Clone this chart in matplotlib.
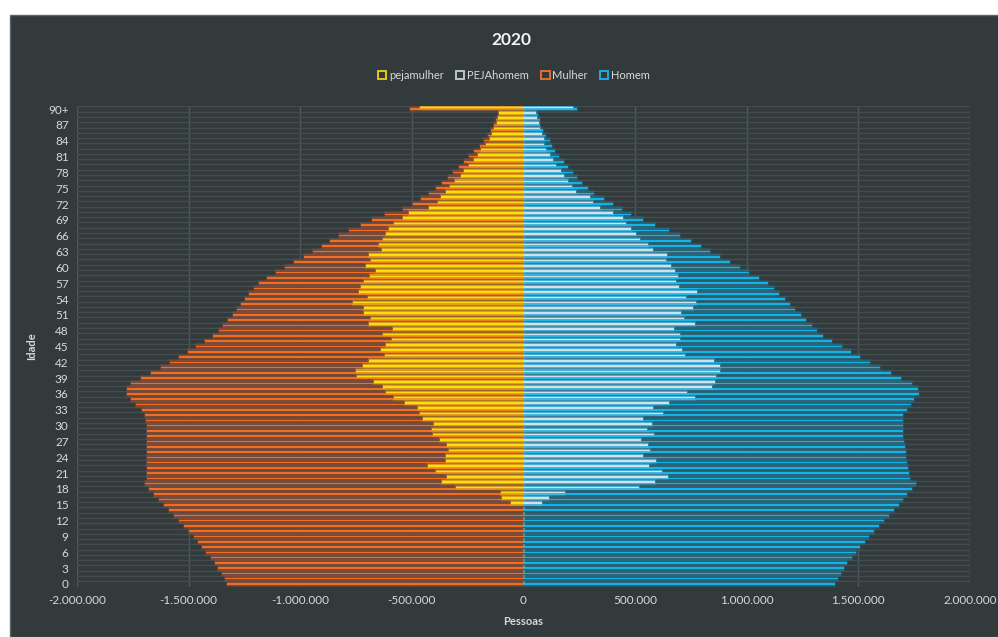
import numpy as np
import matplotlib.pyplot as plt
import matplotlib.patheffects as pe
from matplotlib.patches import Patch, Rectangle
from matplotlib.ticker import FuncFormatter

plt.rcParams['font.family'] = ['Lato', 'DejaVu Sans']

# idades 0..90+ (91 grupos)
Idade = np.arange(91)
Idade_lbl = [str(i) if i < 90 else "90+" for i in Idade]

Mulher = [1326000, 1336000, 1351000, 1368000, 1384000, 1402000, 1420000, 1438000, 1459000, 1478000,
          1499000, 1521000, 1544000, 1566000, 1589000, 1612000, 1633000, 1655000, 1677000, 1697000,
          1688000, 1687000, 1686000, 1685000, 1685000, 1685000, 1686000, 1686000, 1687000, 1688000,
          1688000, 1690000, 1696000, 1711000, 1737000, 1758000, 1778000, 1778000, 1758000, 1714000,
          1670000, 1625000, 1583000, 1543000, 1505000, 1468000, 1426000, 1390000, 1363000, 1344000,
          1323000, 1303000, 1284000, 1266000, 1248000, 1229000, 1209000, 1184000, 1149000, 1109000,
          1067000, 1027000, 985000, 945000, 904000, 865000, 825000, 780000, 730000, 680000,
          620000, 540000, 496000, 459000, 422000, 392000, 365000, 339000, 317000, 290000,
          265000, 242000, 220000, 197000, 179000, 160000, 145000, 134000, 122000, 110000,
          508000]

Homem = [1395000, 1407000, 1420000, 1435000, 1450000, 1470000, 1490000, 1507000, 1528000, 1547000,
         1568000, 1592000, 1614000, 1637000, 1660000, 1680000, 1700000, 1720000, 1740000, 1757000,
         1733000, 1727000, 1722000, 1718000, 1715000, 1712000, 1710000, 1706000, 1702000, 1700000,
         1700000, 1700000, 1702000, 1716000, 1734000, 1750000, 1770000, 1767000, 1740000, 1690000,
         1646000, 1599000, 1551000, 1507000, 1469000, 1426000, 1381000, 1342000, 1314000, 1291000,
         1264000, 1241000, 1217000, 1193000, 1170000, 1145000, 1121000, 1093000, 1054000, 1010000,
         969000, 924000, 879000, 837000, 797000, 752000, 700000, 650000, 590000, 535000,
         480000, 440000, 400000, 360000, 318000, 288000, 262000, 240000, 221000, 199000,
         181000, 158000, 142000, 129000, 117000, 102000, 87000, 76000, 72000, 64000,
         241000]

pejamulher = [0] * 15 + [
    55000, 98000, 103000, 302000, 363000,
    342000, 392000, 426000, 345000, 347000, 332000, 342000, 372000, 404000, 412000,
    399000, 452000, 462000, 471000, 531000, 578000, 616000, 628000, 668000, 746000,
    750000, 720000, 694000, 619000, 638000, 616000, 589000, 628000, 586000, 694000,
    683000, 713000, 713000, 765000, 698000, 738000, 728000, 713000, 688000, 661000,
    705000, 683000, 690000, 634000, 649000, 631000, 616000, 601000, 578000, 541000,
    511000, 422000, 384000, 369000, 347000, 329000, 305000, 279000, 265000, 242000,
    220000, 205000, 190000, 170000, 152000, 140000, 130000, 119000, 112000, 108000,
    463000]

PEJAhomem = [0] * 15 + [
    84000, 112000, 188000, 516000, 587000,
    646000, 619000, 560000, 592000, 534000, 568000, 559000, 528000, 586000, 552000,
    574000, 534000, 623000, 578000, 650000, 767000, 734000, 843000, 860000, 864000,
    882000, 879000, 852000, 725000, 710000, 685000, 703000, 701000, 674000, 770000,
    719000, 704000, 759000, 771000, 729000, 779000, 696000, 683000, 690000, 677000,
    661000, 640000, 643000, 581000, 557000, 523000, 505000, 483000, 460000, 445000,
    400000, 341000, 311000, 296000, 236000, 218000, 199000, 181000, 169000, 147000,
    131000, 117000, 102000, 94000, 91000, 82000, 72000, 69000, 60000, 57000,
    221000]

bg = "#323a3c"
txt = "#d9d9d9"

fig = plt.figure(figsize=(9.98, 6.37), dpi=100)
fig.patch.set_facecolor("white")
fig.patches.append(Rectangle((10 / 998, 0), 1, 1 - 15 / 637, transform=fig.transFigure,
                             facecolor=bg, edgecolor="#5b6567", lw=1, zorder=-1))

ax = fig.add_axes([77 / 998, 50.4 / 637, 893 / 998, 480.2 / 637])
ax.set_facecolor(bg)

# linhas de grade
for v in np.arange(-2000000, 2000001, 500000):
    ax.axvline(v, color="#4f595b", lw=1, zorder=0)
for k in np.arange(-0.5, 91, 1):
    ax.axhline(k, color="#434d4f", lw=1.0, zorder=0)

mul = -np.array(Mulher)
hom = np.array(Homem)
pm = -np.array(pejamulher)
ph = np.array(PEJAhomem)


def glow(c, w=1.6, a=0.45):
    return [pe.Stroke(linewidth=w, foreground=c, alpha=a), pe.Normal()]


# barra = faixa escura (brilho) + linha clara no meio
b = ax.barh(Idade, mul, height=0.9, color="#7a4b39", zorder=2)
for r in b:
    r.set_path_effects(glow("#7a4b39"))
ax.barh(Idade, mul, height=0.3, color="#f26d1f", zorder=3)
b = ax.barh(Idade, hom, height=0.9, color="#2a6478", zorder=2)
for r in b:
    r.set_path_effects(glow("#2a6478"))
ax.barh(Idade, hom, height=0.3, color="#0fb5e8", zorder=3)

off = 0.3
b = ax.barh(Idade + off, pm, height=0.7, color="#e3a51c", alpha=0.85, zorder=4)
for r in b:
    r.set_path_effects(glow("#e3a51c", a=0.3))
ax.barh(Idade + off, pm, height=0.3, color="#ffdc0a", zorder=5)
b = ax.barh(Idade + off, ph, height=0.7, color="#4fb6df", alpha=0.8, zorder=4)
for r in b:
    r.set_path_effects(glow("#4fb6df", a=0.3))
ax.barh(Idade + off, ph, height=0.3, color="#cfe2ea", zorder=5)

ax.set_xlim(-2000000, 2000000)
ax.set_ylim(-0.5, 90.5)
ax.set_xticks(np.arange(-2000000, 2000001, 500000))
ax.xaxis.set_major_formatter(FuncFormatter(lambda v, p: f"{int(v):,}".replace(",", ".")))
ax.set_yticks(Idade[::3])
ax.set_yticklabels(Idade_lbl[::3])
ax.tick_params(colors=txt, labelsize=8.5, length=0, pad=6)
for s in ax.spines.values():
    s.set_visible(False)

ax.set_xlabel("Pessoas", color=txt, fontsize=8, fontweight="bold", labelpad=7)
ax.set_ylabel("Idade", color=txt, fontsize=8, fontweight="bold", labelpad=8)

fig.text(0.512, 0.937, "2020", color="#f2f2f2", fontsize=12.5, fontweight="bold",
         ha="center", va="center")

handles = [Patch(facecolor="none", edgecolor="#e2c41a", lw=1.4, label="pejamulher"),
           Patch(facecolor="none", edgecolor="#b8c6cc", lw=1.4, label="PEJAhomem"),
           Patch(facecolor="none", edgecolor="#e2702a", lw=1.4, label="Mulher"),
           Patch(facecolor="none", edgecolor="#1aaede", lw=1.4, label="Homem")]
leg = fig.legend(handles=handles, loc="center", bbox_to_anchor=(0.515, 0.882), ncol=4,
                 frameon=False, fontsize=8, handlelength=0.75, handleheight=0.75,
                 handletextpad=0.25, columnspacing=1.1)
for t in leg.get_texts():
    t.set_color(txt)

fig.savefig("out.png", dpi=100, facecolor=fig.get_facecolor())
